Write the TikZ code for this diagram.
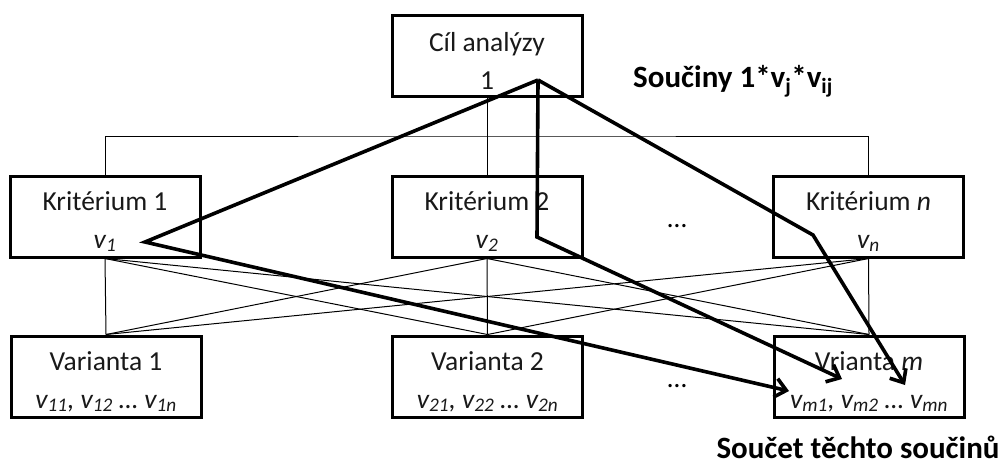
\documentclass[tikz,border=0pt]{standalone}
\usepackage{fontspec}
\setmainfont{Carlito}
\usetikzlibrary{arrows.meta}
\newcommand\tstrut{\rule{0pt}{29pt}}
\tikzset{
  box/.style={draw=black, line width=3pt, minimum width=190pt, minimum height=81pt,
    inner sep=0pt, align=center, font=\fontsize{27.5}{38}\selectfont, text=black!90},
  thin/.style={draw=black, line width=1pt},
  thick/.style={draw=black, line width=3.6pt, line join=miter},
  arr/.style={thick, -{Straight Barb[length=11pt,width=19pt,line width=3.6pt]}},
  lbl/.style={font=\fontsize{31}{36}\selectfont\bfseries, inner sep=0pt, anchor=base},
  dots/.style={font=\fontsize{27.5}{30}\selectfont, inner sep=0pt},
}
\begin{document}
\begin{tikzpicture}[x=1pt,y=-1pt]
\useasboundingbox (0,0) rectangle (1008,464);
% boxes
\node[box] (top) at (487,56) {\tstrut Cíl analýzy\\1};
\node[box] (k1) at (105,216.5) {\tstrut Kritérium 1\\\textit{v\textsubscript{1}}};
\node[box] (k2) at (487,216.5) {\tstrut Kritérium 2\\\textit{v\textsubscript{2}}};
\node[box] (kn) at (868.5,216.5) {\tstrut Kritérium \textit{n}\\\textit{v\textsubscript{n}}};
\node[box] (v1) at (106,376.5) {\tstrut Varianta 1\\\textit{v\textsubscript{11}, v\textsubscript{12} \dots\ v\textsubscript{1n}}};
\node[box] (v2) at (487.5,376.5) {\tstrut Varianta 2\\\textit{v\textsubscript{21}, v\textsubscript{22} \dots\ v\textsubscript{2n}}};
\node[box] (vm) at (869,376.5) {\tstrut Vrianta \textit{m}\\\textit{v\textsubscript{m1}, v\textsubscript{m2} \dots\ v\textsubscript{mn}}};
% ellipses
\node[dots] (d1) at (677,226) {\dots};
\node[dots] (d2) at (677,386) {\dots};
% labels
\node[lbl] (prod) at (733,87) {Součiny 1*v\textsubscript{j}*v\textsubscript{ij}};
\node[lbl] (sum) at (858,458) {Součet těchto součinů};
% tree bus
\coordinate (bus) at (487,136);
\draw[thin] (top.south) -- (bus);
\draw[thin] (k1.north) |- (bus) -| (kn.north);
\draw[thin] (bus) -- (k2.north);
% bipartite links
\foreach \k in {k1,k2,kn}{
  \foreach \v in {v1,v2,vm}{
    \draw[thin] (\k.south) -- (\v.north);
  }
}
% thick paths
\coordinate (p) at (538,80);
\coordinate (a1) at (145,242);
\coordinate (a2) at (537,237);
\coordinate (a3) at (813,235);
\coordinate (e1) at (789,391);
\coordinate (e2) at (842,379);
\coordinate (e3) at (905,385);
\draw[arr] (p) -- (a1) -- (e1);
\draw[arr] (p) -- (a2) -- (e2);
\draw[arr] (p) -- (a3) -- (e3);
\end{tikzpicture}
\end{document}
